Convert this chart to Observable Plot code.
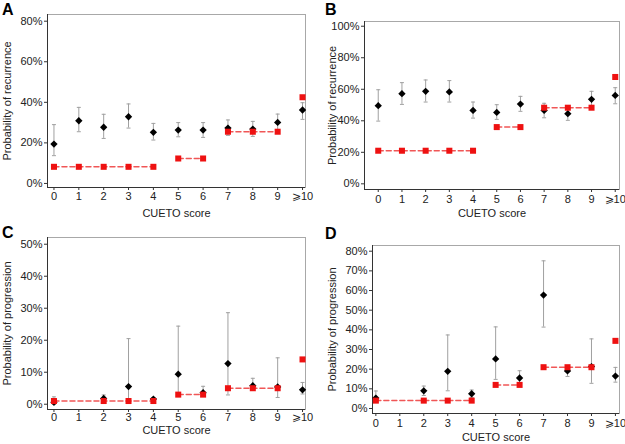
<!DOCTYPE html>
<html>
<head>
<meta charset="utf-8">
<script src="https://cdn.jsdelivr.net/npm/d3@7"></script>
<script src="https://cdn.jsdelivr.net/npm/@observablehq/plot@0.6"></script>
<style>
  html, body { margin: 0; padding: 0; background: #fff; }
  #root { position: relative; width: 625px; height: 444px; overflow: hidden; font-family: "Liberation Sans", Arial, Helvetica, sans-serif; }
  .panel { position: absolute; }
  .letter { position: absolute; font-weight: bold; font-size: 16px; color: #000; line-height: 1; }
</style>
</head>
<body>
<div id="root"></div>
<script>
// ---------- data ----------
const scoreTicks = [0, 1, 2, 3, 4, 5, 6, 7, 8, 9, 10];

// Panel A – recurrence (observed vs predicted)
const aScore = [0, 1, 2, 3, 4, 5, 6, 7, 8, 9, 10];
const aObs   = [19.4, 30.9, 27.7, 32.9, 25.2, 26.3, 26.3, 27.3, 26.8, 30.1, 36.2];
const aLo    = [13.7, 25.5, 22.2, 27.3, 21.4, 23.0, 22.7, 23.7, 23.2, 26.3, 31.6];
const aHi    = [29.0, 37.5, 34.1, 39.2, 29.6, 30.0, 30.0, 31.3, 30.6, 34.2, 39.8];
const aPred  = [8.2, 8.2, 8.2, 8.2, 8.2, 12.3, 12.3, 25.5, 25.5, 25.5, 42.5];
const aGroup = [1, 1, 1, 1, 1, 2, 2, 3, 3, 3, 4];

// Panel B – recurrence
const bScore = [0, 1, 2, 3, 4, 5, 6, 7, 8, 9, 10];
const bObs   = [49.6, 57.2, 58.7, 58.3, 46.6, 45.3, 50.6, 46.6, 44.5, 53.6, 56.1];
const bLo    = [39.8, 50.4, 51.9, 51.9, 41.7, 40.9, 46.0, 41.9, 40.3, 49.2, 50.8];
const bHi    = [59.7, 64.2, 65.9, 65.5, 51.9, 50.2, 55.5, 51.1, 49.2, 58.7, 61.0];
const bPred  = [21, 21, 21, 21, 21, 36, 36, 48.3, 48.3, 48.3, 67.8];
const bGroup = [1, 1, 1, 1, 1, 2, 2, 3, 3, 3, 4];

// Panel C – progression (no patients with score 1)
const cScore = [0, 2, 3, 4, 5, 6, 7, 8, 9, 10];
const cObs   = [0.6, 1.8, 5.5, 1.6, 9.4, 3.6, 12.7, 5.8, 5.4, 4.5];
const cLo    = [0.0, 0.8, 0.8, 0.8, 2.9, 2.7, 2.9, 4.8, 2.1, 3.2];
const cHi    = [2.3, 2.9, 20.5, 2.1, 24.4, 5.6, 28.6, 8.1, 14.5, 6.8];
const cPred  = [1, 1, 1, 1, 3, 3, 5, 5, 5, 14];
const cGroup = [1, 1, 1, 1, 2, 2, 3, 3, 3, 4];

// Panel D – progression
const dScore = [0, 2, 3, 4, 5, 6, 7, 8, 9, 10];
const dObs   = [5.3, 9.0, 18.9, 7.5, 25.2, 15.5, 57.7, 19.1, 21.3, 16.5];
const dLo    = [3.4, 6.6, 9.0, 5.6, 14.8, 12.8, 41.4, 16.3, 12.8, 13.4];
const dHi    = [8.9, 11.4, 37.4, 9.4, 41.5, 19.2, 75.1, 21.6, 35.4, 20.9];
const dPred  = [4, 4, 4, 4, 12, 12, 21, 21, 21, 34.4];
const dGroup = [1, 1, 1, 1, 2, 2, 3, 3, 3, 4];

const ticksA = [0, 20, 40, 60, 80];
const ticksB = [0, 20, 40, 60, 80, 100];
const ticksC = [0, 10, 20, 30, 40, 50];
const ticksD = [0, 10, 20, 30, 40, 50, 60, 70, 80];

const xTitle = "CUETO score";
const yTitleRec = "Probability of recurrence";
const yTitleProg = "Probability of progression";

// ---------- helpers ----------
function rows(score, obs, lo, hi, pred, group) {
  return score.map((s, i) => ({score: s, obs: obs[i], lo: lo[i], hi: hi[i], pred: pred[i], group: group[i]}));
}

// horizontal cap for error bars
const capSymbol = {
  draw(ctx, size) {
    const r = Math.sqrt(size / Math.PI);
    ctx.moveTo(-r, 0);
    ctx.lineTo(r, 0);
  }
};

const FONT = '"Liberation Sans", Arial, Helvetica, sans-serif';

function panel(cfg) {
  const data = rows(cfg.score, cfg.obs, cfg.lo, cfg.hi, cfg.pred, cfg.group);
  const chart = Plot.plot({
    width: cfg.width,
    height: cfg.height,
    marginLeft: cfg.ml, marginRight: cfg.mr, marginTop: cfg.mt, marginBottom: cfg.mb,
    style: {fontFamily: FONT, fontSize: "11px", color: "#222", background: "transparent", overflow: "visible"},
    x: {domain: cfg.xDomain},
    y: {domain: cfg.yDomain},
    marks: [
      Plot.frame({stroke: "#a8a8a8", strokeWidth: 1}),
      Plot.ruleX([cfg.xDomain[0]], {stroke: "#333", strokeWidth: 1}),
      Plot.ruleY([cfg.yDomain[0]], {stroke: "#333", strokeWidth: 1}),
      Plot.axisY({ticks: cfg.yTicks, tickSize: 3, tickPadding: 2, tickFormat: d => d + "%", label: null, stroke: "#333"}),
      Plot.axisX({ticks: scoreTicks, tickSize: 3, tickPadding: cfg.xPad, tickFormat: d => d === 10 ? "\u2A7E10" : String(d), label: null, stroke: "#333"}),
      // error bars
      Plot.ruleX(data, {x: "score", y1: "lo", y2: "hi", stroke: "#a0a0a0", strokeWidth: 1}),
      Plot.dot(data, {x: "score", y: "lo", symbol: capSymbol, r: 2, stroke: "#a0a0a0", strokeWidth: 1, fill: "none"}),
      Plot.dot(data, {x: "score", y: "hi", symbol: capSymbol, r: 2, stroke: "#a0a0a0", strokeWidth: 1, fill: "none"}),
      // observed
      Plot.dot(data, {x: "score", y: "obs", symbol: "diamond2", r: 3.3, fill: "#000", stroke: "none"}),
      // predicted
      Plot.line(data, {x: "score", y: "pred", z: "group", stroke: "#ee4444", strokeWidth: 1.5, strokeDasharray: "5,3", strokeOpacity: 0.9}),
      Plot.dot(data, {x: "score", y: "pred", symbol: "square", r: 3.4, fill: "#ee1111", stroke: "none"}),
      // titles
      Plot.text([xTitle], {frameAnchor: "bottom", dy: cfg.xTitleDy, fontSize: 11, fill: "#222", textAnchor: "middle", lineAnchor: "middle"}),
      Plot.text([cfg.yTitle], {frameAnchor: "left", dx: cfg.yTitleDx, rotate: -90, fontSize: 11, fill: "#222", textAnchor: "middle", lineAnchor: "middle"})
    ]
  });
  const div = document.createElement("div");
  div.className = "panel";
  div.style.left = cfg.left + "px";
  div.style.top = cfg.top + "px";
  div.appendChild(chart);
  document.getElementById("root").appendChild(div);

  const L = document.createElement("div");
  L.className = "letter";
  L.textContent = cfg.letter;
  L.style.left = (cfg.left + cfg.letterX) + "px";
  L.style.top = (cfg.top + cfg.letterY) + "px";
  document.getElementById("root").appendChild(L);
}

panel({letter: "A", left: 0, top: 0, width: 312, height: 222, ml: 47, mr: 7, mt: 14, mb: 35,
  xDomain: [-0.26, 10.12], yDomain: [-2.0, 83.3], yTicks: ticksA, xPad: 2, xTitleDy: 26, yTitleDx: -40,
  yTitle: yTitleRec, letterX: 2, letterY: 2,
  score: aScore, obs: aObs, lo: aLo, hi: aHi, pred: aPred, group: aGroup});

panel({letter: "B", left: 312, top: 0, width: 313, height: 222, ml: 52, mr: 6, mt: 21, mb: 33,
  xDomain: [-0.58, 10.18], yDomain: [-3.6, 103], yTicks: ticksB, xPad: 3, xTitleDy: 24, yTitleDx: -32,
  yTitle: yTitleRec, letterX: 13, letterY: 2,
  score: bScore, obs: bObs, lo: bLo, hi: bHi, pred: bPred, group: bGroup});

panel({letter: "C", left: 0, top: 222, width: 312, height: 222, ml: 47, mr: 7, mt: 15, mb: 35,
  xDomain: [-0.26, 10.12], yDomain: [-1.65, 52.1], yTicks: ticksC, xPad: 1, xTitleDy: 21, yTitleDx: -40,
  yTitle: yTitleProg, letterX: 2, letterY: 3,
  score: cScore, obs: cObs, lo: cLo, hi: cHi, pred: cPred, group: cGroup});

panel({letter: "D", left: 312, top: 222, width: 313, height: 222, ml: 60, mr: 6, mt: 23, mb: 31,
  xDomain: [-0.14, 10.17], yDomain: [-2.55, 82.9], yTicks: ticksD, xPad: 3, xTitleDy: 24, yTitleDx: -40,
  yTitle: yTitleProg, letterX: 13, letterY: 4,
  score: dScore, obs: dObs, lo: dLo, hi: dHi, pred: dPred, group: dGroup});
</script>
</body>
</html>
